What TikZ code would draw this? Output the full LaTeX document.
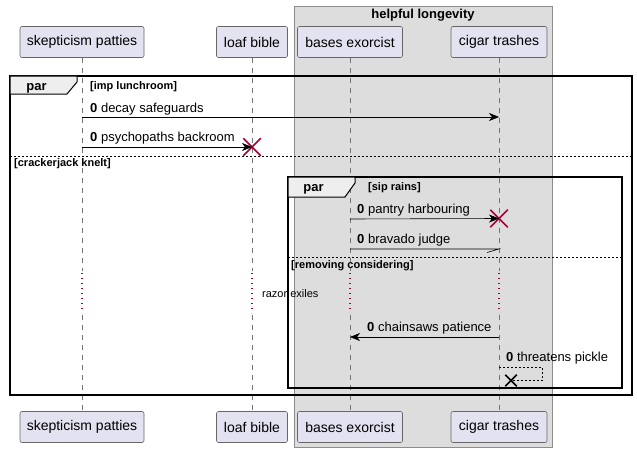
\documentclass[tikz,border=0pt]{standalone}
\usepackage{fontspec}
\setmainfont{Liberation Sans}
\usetikzlibrary{arrows.meta,shapes.misc}
\definecolor{partfill}{HTML}{E2E2F0}
\definecolor{boxgray}{HTML}{DDDDDD}
\definecolor{tabgray}{HTML}{EEEEEE}
\definecolor{killred}{HTML}{A80036}
\tikzset{
	actor/.style={draw=black!60, line width=0.6pt, fill=partfill, rounded corners=2pt,
		minimum height=31pt, inner sep=0pt, font=\fontsize{14}{16}\selectfont},
	lifeline/.style={draw=black!55, line width=0.6pt, dash pattern=on 5pt off 5pt},
	delayline/.style={draw=killred, line width=1.1pt, dash pattern=on 1.2pt off 3.8pt},
	msg/.style={-{Stealth[length=10pt,width=8pt,inset=3pt]}, line width=0.6pt},
	msglabel/.style={anchor=base west, inner sep=0pt, font=\fontsize{13}{15}\selectfont},
	cond/.style={anchor=base west, inner sep=0pt, font=\bfseries\fontsize{11}{13}\selectfont},
	parlabel/.style={anchor=base, inner sep=0pt, font=\bfseries\fontsize{13}{15}\selectfont},
	frame/.style={draw=black, line width=1.5pt},
	tab/.style={draw=black, line width=1pt, fill=tabgray},
	sep/.style={draw=black, line width=0.6pt, dash pattern=on 2pt off 2pt},
	kill/.style={cross out, draw=killred, line width=1.5pt, minimum size=16pt, inner sep=0pt},
	stop/.style={cross out, draw=black, line width=1.5pt, minimum size=10pt, inner sep=0pt},
}
\begin{document}
\begin{tikzpicture}[x=1pt, y=-1pt]
				\useasboundingbox (0,0) rectangle (637,452);
				
				% Caja del grupo
				\draw[draw=black!45, fill=boxgray] (294,6) rectangle (552,447);
				\node[parlabel] (grp) at (423,19) {helpful longevity};
				
				% Participantes
				\node[actor, minimum width=124pt] (sp) at (82,42) {skepticism patties};
				\node[actor, minimum width=71pt] (lb) at (252,42) {loaf bible};
				\node[actor, minimum width=105pt] (be) at (350,42) {bases exorcist};
				\node[actor, minimum width=96pt] (ct) at (499,42) {cigar trashes};
				\node[actor, minimum width=124pt] (sp-b) at (82,427) {skepticism patties};
				\node[actor, minimum width=71pt] (lb-b) at (252,427) {loaf bible};
				\node[actor, minimum width=105pt] (be-b) at (350,427) {bases exorcist};
				\node[actor, minimum width=96pt] (ct-b) at (499,427) {cigar trashes};
				
				% Líneas de vida
				\foreach \p in {sp,lb,be,ct}{
					\draw[lifeline] (\p.south) -- (\p |- 0,271);
					\draw[delayline] (\p |- 0,273) -- (\p |- 0,313);
					\draw[lifeline] (\p |- 0,315) -- (\p-b.north);
				}
				
				% Marco par exterior
				\draw[frame] (10,76) rectangle (632,395);
				\filldraw[tab] (10,76) -- (77,76) -- (77,82) -- (67,94) -- (10,94) -- cycle;
				\node[parlabel] (par1) at (36.5,90) {par};
				\node[cond] (c1) at (90,89) {[imp lunchroom]};
				\draw[sep] (10,156) -- (632,156);
				\node[cond] (c2) at (14,166) {[crackerjack knelt]};
				
				% Marco par interior
				\draw[frame] (288,177) rectangle (622,388);
				\filldraw[tab] (288,177) -- (355,177) -- (355,183) -- (345,197) -- (288,197) -- cycle;
				\node[parlabel] (par2) at (313.5,191) {par};
				\node[cond] (c3) at (368,190) {[sip rains]};
				\draw[sep] (288,257) -- (622,257);
				\node[cond] (c4) at (291,268) {[removing considering]};
				
				% Mensajes
				\draw[msg] (sp |- 0,117) -- (ct |- 0,117);
				\node[msglabel] (l1) at (90,112) {\textbf{0} decay safeguards};
				
				\node[kill] (x1) at (252,147) {};
				\draw[msg] (sp |- 0,147) -- (x1.center);
				\node[msglabel] (l2) at (90,141.5) {\textbf{0} psychopaths backroom};
				
				\node[kill] (x2) at (499,218.5) {};
				\draw[msg] (be |- 0,219) -- (x2.center);
				\node[msglabel] (l3) at (357,213) {\textbf{0} pantry harbouring};
				
				\draw[line width=0.6pt] (be |- 0,249) -- (ct |- 0,249) -- ++(-12,3.5);
				\node[msglabel] (l4) at (357,243) {\textbf{0} bravado judge};
				
				% Retardo
				\node[anchor=base west, inner sep=0pt, font=\fontsize{11}{13}\selectfont] (dl) at (262,297) {razor exiles};
				
				\draw[msg] (ct |- 0,337) -- (be |- 0,337);
				\node[msglabel] (l5) at (367,331) {\textbf{0} chainsaws patience};
				
				% Mensaje a sí mismo
				\coordinate (loop) at (542,367);
				\node[stop] (x3) at (511,380.5) {};
				\draw[sep] (ct |- loop) -- (loop) -- (loop |- x3) -- (x3.center);
				\node[msglabel] (l6) at (506,361) {\textbf{0} threatens pickle};
			\end{tikzpicture}
\end{document}
